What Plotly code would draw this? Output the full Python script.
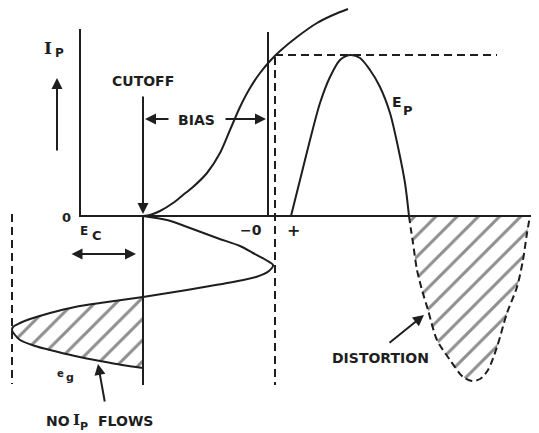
import plotly.graph_objects as go

# picture is laid out in page pixels: x to the right, y downwards
INK = '#1e1e1e'
PAGE_PAD = 8  # browser body margin in front of the figure

# axes and guide lines
axis_x = [80, 80, 539]
axis_y = [29, 216, 216]
cutoff_x = [143, 143]
cutoff_y = [216, 385]
bias_edge_x = [268, 268]
bias_edge_y = [32, 216]
peak_drop_x = [275, 275]
peak_drop_y = [57, 385]
peak_level_x = [275, 497]
peak_level_y = [55, 55]
swing_left_x = [12, 12]
swing_left_y = [214, 384]

# plate-current characteristic (transfer curve)
char_x = [143, 150, 160, 173, 183, 193, 207, 220, 230, 240, 250, 260, 270, 280, 297, 317, 333, 348]
char_y = [216, 215, 211, 203, 195, 187, 173, 153, 130, 107, 88, 73, 61, 51, 37, 23, 15, 9]

# grid signal e_g hanging below the axis
grid_x = [143, 167, 190, 217, 240, 253, 266, 273, 269, 256, 233, 210, 187, 143]
grid_y = [216, 220, 228, 238, 246, 253, 260, 265, 271, 277, 282, 286, 290, 297]
cut_x = [143, 100, 75, 50, 30, 20, 13, 12, 15, 20, 35, 50, 75, 100, 122, 143]
cut_y = [297, 303, 307, 313, 319, 323, 327, 330, 335, 340, 346, 350, 356, 361, 365, 368]

# plate output E_P, positive half
ep_x = [291, 300, 310, 320, 330, 340, 350, 360, 370, 380, 390, 398, 405, 409]
ep_y = [216, 180, 140, 103, 77, 60, 55, 58, 70, 87, 113, 147, 183, 216]

# missing negative half (distortion)
dist_x = [409, 411, 413, 417, 422, 428, 437, 450, 463, 472, 480, 488, 497, 507, 517, 523, 527, 530]
dist_y = [216, 230, 243, 270, 290, 310, 340, 360, 377, 381, 379, 370, 347, 313, 287, 260, 233, 216]

# arrows: (tail x, tail y, head x, head y)
arrows = [
    (57, 152, 57, 78),      # I_P up
    (143, 95, 143, 214),    # cutoff
    (170, 119, 145, 119),   # bias, left half
    (224, 119, 266, 119),   # bias, right half
    (105, 403, 98, 364),    # no I_P flows
    (388, 344, 424, 315),   # distortion
]
ec_arrow = (70, 254, 136, 254)

# labels: (text, x, y, size, family)
labels = [
    ('CUTOFF', 143, 81, 14, 'DejaVu Sans'),
    ('BIAS', 196, 120, 14, 'DejaVu Sans'),
    ('0', 66, 217, 13, 'DejaVu Sans'),
    ('−0', 251, 230, 14, 'DejaVu Sans'),
    ('+', 293, 230, 16, 'DejaVu Sans'),
    ('DISTORTION', 380, 358, 14, 'DejaVu Sans'),
    ('NO', 58, 421, 14, 'DejaVu Sans'),
    ('I', 76, 420, 15, 'DejaVu Serif'),
    ('P', 84, 426, 11, 'DejaVu Sans'),
    ('FLOWS', 125, 421, 14, 'DejaVu Sans'),
    ('I', 48, 48, 17, 'DejaVu Serif'),
    ('P', 59, 53, 12, 'DejaVu Sans'),
    ('E', 84, 231, 12, 'DejaVu Sans'),
    ('C', 97, 235, 13, 'DejaVu Sans'),
    ('E', 397, 102, 14, 'DejaVu Sans'),
    ('P', 408, 110, 13, 'DejaVu Sans'),
    ('e', 60, 373, 10, 'DejaVu Sans'),
    ('g', 70, 377, 11, 'DejaVu Sans'),
]

fig = go.Figure()


def line(xs, ys, dash='solid', width=2, shape='linear', **kw):
    fig.add_trace(go.Scatter(x=xs, y=ys, mode='lines', hoverinfo='skip', showlegend=False,
                             line=dict(color=INK, width=width, dash=dash, shape=shape, smoothing=0.8), **kw))


hatch = dict(shape='/', fgcolor=INK, bgcolor='white', size=15, solidity=0.2)

line(cut_x, cut_y, shape='spline', fill='toself', fillcolor='white', fillpattern=hatch)
line(dist_x, dist_y, dash='7px,4px', shape='spline', fill='toself', fillcolor='white', fillpattern=hatch)

line(axis_x, axis_y)
line(cutoff_x, cutoff_y)
line(bias_edge_x, bias_edge_y)
line(peak_drop_x, peak_drop_y, dash='8px,5px')
line(peak_level_x, peak_level_y, dash='8px,5px')
line(swing_left_x, swing_left_y, dash='8px,5px')
line(char_x, char_y, shape='spline')
line(grid_x, grid_y, shape='spline')
line(ep_x, ep_y, shape='spline')

for tx, ty, hx, hy in arrows:
    fig.add_annotation(x=hx, y=hy, ax=tx, ay=ty, xref='x', yref='y', axref='x', ayref='y',
                       text='', showarrow=True, arrowhead=2, arrowsize=1.1, arrowwidth=2, arrowcolor=INK)
tx, ty, hx, hy = ec_arrow
fig.add_annotation(x=hx, y=hy, ax=tx, ay=ty, xref='x', yref='y', axref='x', ayref='y',
                   text='', showarrow=True, arrowhead=2, startarrowhead=2, arrowside='end+start',
                   arrowsize=1.1, startarrowsize=1.1, arrowwidth=2, arrowcolor=INK)

for text, x, y, size, fam in labels:
    fig.add_annotation(x=x, y=y, text=text, showarrow=False, xanchor='center', yanchor='middle',
                       font=dict(family=fam, size=size, color=INK, weight='bold'))

fig.update_layout(width=539 - PAGE_PAD, height=433 - PAGE_PAD, margin=dict(l=0, r=0, t=0, b=0),
                  paper_bgcolor='white', plot_bgcolor='white',
                  xaxis=dict(range=[PAGE_PAD, 539], visible=False, fixedrange=True),
                  yaxis=dict(range=[433, PAGE_PAD], visible=False, fixedrange=True))

fig.write_html("out.html")
